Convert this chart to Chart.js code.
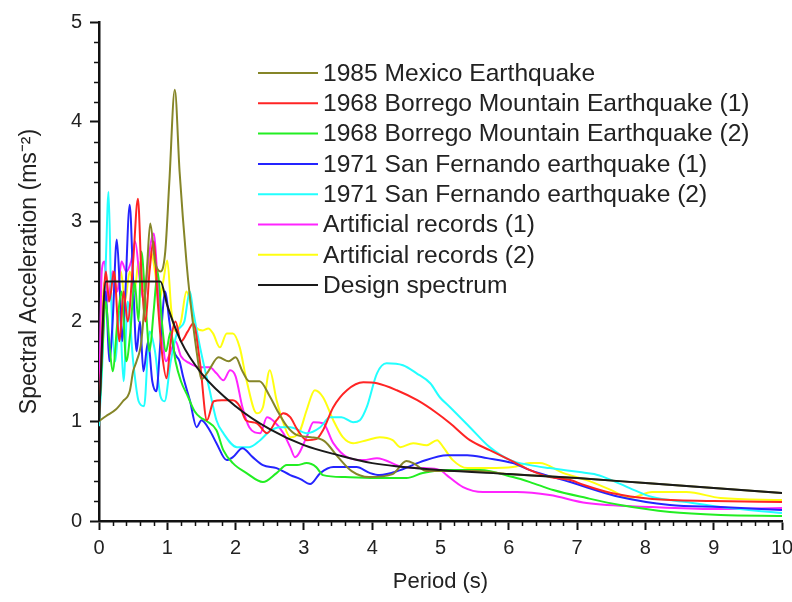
<!DOCTYPE html>
<html>
<head>
<meta charset="utf-8">
<script src="https://cdn.jsdelivr.net/npm/chart.js@4"></script>
<style>
  body { margin: 0; background: #fff; }
  #wrap { width: 792px; height: 602px; position: relative; }
</style>
</head>
<body>
<div id="wrap"><canvas id="chart"></canvas></div>
<script>
// series labels (legend order)
const seriesLabels = [
  '1985 Mexico Earthquake',
  '1968 Borrego Mountain Earthquake (1)',
  '1968 Borrego Mountain Earthquake (2)',
  '1971 San Fernando earthquake (1)',
  '1971 San Fernando earthquake (2)',
  'Artificial records (1)',
  'Artificial records (2)',
  'Design spectrum'
];
const seriesColors = ['#858528', '#ff2424', '#22ee22', '#2424ff', '#22ffff', '#ff24ff', '#ffff10', '#1a1a1a'];

// [period (s), spectral acceleration (m/s^2)]
const mexico = [[0,1.0],[0.1,1.05],[0.25,1.12],[0.35,1.2],[0.45,1.3],[0.5,1.5],[0.55,1.6],[0.62,1.8],[0.7,2.5],[0.75,2.98],[0.82,2.6],[0.9,2.5],[0.97,2.7],[1.03,3.4],[1.11,4.32],[1.18,3.5],[1.28,2.6],[1.33,2.25],[1.45,1.6],[1.5,1.42],[1.6,1.5],[1.75,1.64],[1.9,1.6],[2.0,1.64],[2.1,1.5],[2.2,1.4],[2.35,1.4],[2.5,1.25],[2.6,1.12],[2.75,0.95],[2.9,0.86],[3.1,0.84],[3.3,0.8],[3.5,0.64],[3.7,0.5],[3.95,0.44],[4.3,0.47],[4.5,0.6],[4.6,0.58],[4.8,0.5],[5,0.5],[5.5,0.5],[6,0.47],[7,0.43],[8,0.38],[9,0.33],[10,0.28]];
const borrego1 = [[0,1.0],[0.05,1.9],[0.1,2.5],[0.15,2.2],[0.22,2.5],[0.3,1.8],[0.36,2.3],[0.42,2.0],[0.5,2.6],[0.57,3.23],[0.62,2.5],[0.68,2.0],[0.74,2.5],[0.8,2.8],[0.86,2.2],[0.92,1.7],[0.99,1.43],[1.05,1.8],[1.12,2.0],[1.2,1.8],[1.3,1.9],[1.38,1.98],[1.48,1.58],[1.58,1.01],[1.68,1.2],[1.8,1.21],[1.96,1.21],[2.06,1.15],[2.15,1.01],[2.31,0.98],[2.46,0.88],[2.6,1.01],[2.7,1.08],[2.8,1.04],[2.9,0.92],[3.04,0.81],[3.18,0.82],[3.28,0.91],[3.43,1.14],[3.63,1.31],[3.87,1.39],[4.07,1.38],[4.36,1.31],[4.66,1.21],[4.95,1.08],[5.14,0.98],[5.43,0.81],[5.72,0.71],[6.02,0.61],[6.31,0.51],[6.6,0.44],[6.9,0.41],[7.1,0.36],[7.5,0.28],[8.1,0.22],[9,0.2],[10,0.19]];
const borrego2 = [[0,1.0],[0.05,1.7],[0.1,2.2],[0.15,1.8],[0.2,1.5],[0.27,2.0],[0.33,2.3],[0.4,1.6],[0.46,1.9],[0.52,2.4],[0.58,2.0],[0.62,2.7],[0.68,2.2],[0.74,1.7],[0.8,2.1],[0.86,2.5],[0.92,2.0],[0.98,1.7],[1.05,1.9],[1.12,1.6],[1.2,1.4],[1.3,1.25],[1.4,1.1],[1.48,1.04],[1.58,1.0],[1.72,0.91],[1.82,0.71],[1.96,0.58],[2.16,0.48],[2.4,0.39],[2.6,0.48],[2.75,0.56],[2.9,0.56],[3.04,0.58],[3.18,0.54],[3.28,0.46],[3.6,0.44],[4.11,0.43],[4.5,0.43],[4.74,0.48],[5.1,0.51],[5.58,0.51],[6.06,0.44],[6.31,0.39],[6.65,0.31],[7.14,0.23],[7.63,0.16],[8.36,0.09],[9.1,0.06],[10,0.05]];
const sanFernando1 = [[0,1.0],[0.05,1.8],[0.1,2.3],[0.15,1.6],[0.2,2.0],[0.26,2.82],[0.3,2.4],[0.34,1.8],[0.38,2.2],[0.45,3.17],[0.5,2.4],[0.55,1.7],[0.6,2.0],[0.65,1.5],[0.72,1.8],[0.78,1.4],[0.84,1.3],[0.9,1.8],[0.97,2.3],[1.03,2.0],[1.1,1.7],[1.18,1.6],[1.23,1.45],[1.33,1.21],[1.43,0.94],[1.5,1.01],[1.62,0.91],[1.72,0.78],[1.87,0.61],[1.96,0.64],[2.1,0.73],[2.25,0.64],[2.4,0.56],[2.6,0.53],[2.8,0.46],[2.95,0.42],[3.09,0.37],[3.24,0.48],[3.43,0.54],[3.77,0.54],[3.97,0.48],[4.11,0.46],[4.41,0.51],[4.7,0.59],[5.1,0.66],[5.39,0.66],[5.68,0.63],[6.06,0.58],[6.31,0.51],[6.9,0.39],[7.63,0.24],[8.36,0.16],[9.1,0.14],[10,0.11]];
const sanFernando2 = [[0,0.95],[0.05,1.6],[0.1,2.6],[0.14,3.3],[0.18,2.2],[0.24,1.6],[0.3,2.1],[0.36,1.4],[0.42,2.2],[0.5,1.6],[0.58,1.2],[0.66,1.15],[0.74,1.9],[0.82,1.7],[0.9,1.25],[0.96,1.2],[1.05,1.6],[1.15,1.9],[1.25,2.0],[1.33,2.3],[1.38,2.1],[1.48,1.74],[1.62,1.31],[1.72,1.01],[1.82,0.88],[2.02,0.74],[2.2,0.74],[2.36,0.81],[2.5,0.9],[2.65,0.94],[2.8,0.94],[3.04,0.88],[3.24,0.94],[3.38,1.04],[3.55,1.04],[3.72,0.99],[3.82,1.01],[3.92,1.14],[4.07,1.48],[4.21,1.58],[4.45,1.56],[4.65,1.48],[4.85,1.38],[4.99,1.24],[5.14,1.14],[5.43,0.94],[5.72,0.74],[6.02,0.61],[6.31,0.56],[6.6,0.53],[7.04,0.49],[7.25,0.47],[7.43,0.43],[7.77,0.33],[8.1,0.24],[8.6,0.19],[9.1,0.14],[10,0.08]];
const artificial1 = [[0,1.0],[0.04,2.5],[0.08,2.6],[0.13,2.2],[0.2,2.5],[0.27,2.3],[0.33,2.6],[0.4,2.5],[0.47,2.6],[0.53,2.8],[0.6,2.4],[0.66,2.2],[0.72,2.6],[0.8,2.88],[0.86,2.4],[0.92,1.9],[0.98,1.6],[1.04,1.68],[1.12,1.8],[1.2,1.65],[1.33,1.58],[1.48,1.54],[1.62,1.54],[1.72,1.48],[1.82,1.41],[1.92,1.51],[2.0,1.45],[2.1,1.14],[2.2,0.94],[2.36,0.88],[2.46,1.04],[2.56,1.0],[2.7,0.88],[2.8,0.74],[2.87,0.64],[3.04,0.84],[3.14,0.99],[3.28,0.98],[3.43,0.78],[3.63,0.64],[3.87,0.61],[4.07,0.63],[4.45,0.54],[4.75,0.53],[5.0,0.51],[5.09,0.46],[5.33,0.34],[5.62,0.29],[6.12,0.29],[6.6,0.26],[7.14,0.18],[8.1,0.14],[9,0.12],[10,0.13]];
const artificial2 = [[0,1.0],[0.04,2.0],[0.08,2.4],[0.14,2.2],[0.2,2.5],[0.26,2.3],[0.32,2.5],[0.38,2.2],[0.45,2.5],[0.52,2.3],[0.58,2.6],[0.64,2.3],[0.7,2.4],[0.76,2.7],[0.82,2.5],[0.88,2.2],[0.94,2.4],[1.0,2.61],[1.06,2.1],[1.12,1.9],[1.2,2.0],[1.28,2.3],[1.33,2.21],[1.42,1.94],[1.52,1.91],[1.6,1.93],[1.67,1.88],[1.77,1.74],[1.87,1.88],[1.96,1.88],[2.06,1.74],[2.16,1.41],[2.31,1.08],[2.4,1.14],[2.5,1.51],[2.6,1.21],[2.7,0.98],[2.8,0.84],[2.94,0.9],[3.04,1.11],[3.16,1.31],[3.28,1.24],[3.43,1.01],[3.57,0.84],[3.72,0.78],[3.92,0.81],[4.11,0.84],[4.3,0.81],[4.41,0.74],[4.6,0.78],[4.8,0.76],[4.95,0.81],[5.04,0.74],[5.18,0.61],[5.39,0.53],[5.7,0.53],[6.06,0.54],[6.31,0.58],[6.45,0.58],[6.8,0.48],[7.14,0.41],[7.5,0.31],[7.77,0.23],[8.1,0.29],[8.6,0.29],[9.1,0.23],[10,0.21]];
const design = [[0,1.0],[0.1,2.4],[0.9,2.4],[1.0,2.16],[1.2,1.8],[1.5,1.48],[2,1.15],[2.5,0.92],[3,0.76],[3.5,0.66],[4,0.58],[5,0.51],[6,0.47],[7,0.43],[8,0.38],[9,0.33],[10,0.28]];

const allSeries = [mexico, borrego1, borrego2, sanFernando1, sanFernando2, artificial1, artificial2, design];

const xTicks = [0, 1, 2, 3, 4, 5, 6, 7, 8, 9, 10];
const yTicks = [0, 1, 2, 3, 4, 5];

const FONT = "'Liberation Sans', Arial, sans-serif";
const TEXT = '#222';

// minor ticks + legend drawn on the canvas
const extras = {
  id: 'extras',
  afterDraw(chart) {
    const ctx = chart.ctx;
    const xs = chart.scales.x, ys = chart.scales.y;
    ctx.save();
    ctx.strokeStyle = '#111';
    ctx.lineWidth = 1.5;
    ctx.beginPath();
    for (let i = 1; i < 50; i++) {
      if (i % 5 === 0) continue;
      const px = Math.round(xs.getPixelForValue(i * 0.2)) + 0.5;
      ctx.moveTo(px, xs.top); ctx.lineTo(px, xs.top + 5);
    }
    for (let i = 1; i < 25; i++) {
      if (i % 5 === 0) continue;
      const py = Math.round(ys.getPixelForValue(i * 0.2)) + 0.5;
      ctx.moveTo(ys.right, py); ctx.lineTo(ys.right - 5, py);
    }
    ctx.stroke();

    // legend
    ctx.font = `24.6px ${FONT}`;
    ctx.textBaseline = 'middle';
    chart.data.datasets.forEach((ds, i) => {
      const y = 73 + i * 30.3;
      ctx.strokeStyle = ds.borderColor;
      ctx.lineWidth = 2;
      ctx.beginPath(); ctx.moveTo(258, y); ctx.lineTo(318, y); ctx.stroke();
      ctx.fillStyle = TEXT;
      ctx.fillText(ds.label, 323, y + 1);
    });
    ctx.restore();
  }
};

new Chart(document.getElementById('chart'), {
  type: 'line',
  data: {
    datasets: allSeries.map((pts, i) => ({
      label: seriesLabels[i],
      data: pts.map(p => ({ x: p[0], y: p[1] })),
      borderColor: seriesColors[i],
      borderWidth: 2,
      pointRadius: 0,
      fill: false,
      cubicInterpolationMode: 'monotone',
      order: i === 7 ? -1 : i
    }))
  },
  options: {
    responsive: true,
    maintainAspectRatio: false,
    animation: false,
    layout: { padding: { top: 22, right: 10, left: 0, bottom: 0 } },
    plugins: { legend: { display: false }, tooltip: { enabled: false } },
    scales: {
      x: {
        type: 'linear', min: 0, max: 10,
        afterBuildTicks: s => { s.ticks = xTicks.map(v => ({ value: v })); },
        afterFit: s => { s.height = 81; s.paddingLeft = 0; s.paddingRight = 0; },
        ticks: { font: { size: 20, family: FONT }, color: TEXT, padding: 6 },
        grid: { drawOnChartArea: false, tickLength: 9, tickColor: '#111', tickWidth: 2 },
        border: { color: '#111', width: 2.5 },
        title: { display: true, text: 'Period (s)', font: { size: 22, family: FONT }, color: TEXT, padding: { top: 4, bottom: 7 } }
      },
      y: {
        min: 0, max: 5,
        afterBuildTicks: s => { s.ticks = yTicks.map(v => ({ value: v })); },
        afterFit: s => { s.width = 99; s.paddingTop = 0; s.paddingBottom = 0; },
        ticks: { font: { size: 20, family: FONT }, color: TEXT, padding: 8 },
        grid: { drawOnChartArea: false, tickLength: 9, tickColor: '#111', tickWidth: 2 },
        border: { color: '#111', width: 2.5 },
        title: { display: true, text: 'Spectral Acceleration (ms⁻²)', font: { size: 23, family: FONT }, color: TEXT, padding: { top: 16, bottom: 4 } }
      }
    }
  },
  plugins: [extras]
});
</script>
</body>
</html>
